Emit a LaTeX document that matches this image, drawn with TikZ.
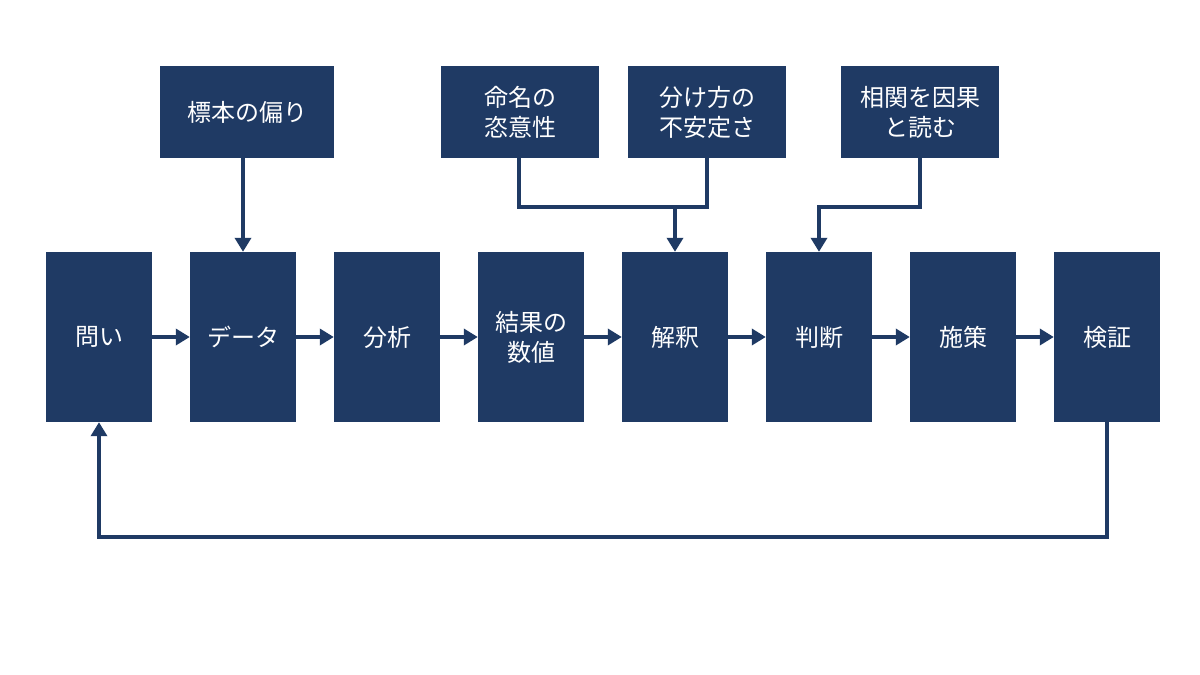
\documentclass[tikz,border=0pt]{standalone}
\usepackage{fontspec}
\setmainfont{Noto Sans CJK JP}
\usetikzlibrary{arrows.meta}
\definecolor{navy}{HTML}{1F3A64}
\begin{document}
\begin{tikzpicture}[x=1pt,y=-1pt,
  box/.style={fill=navy,draw=none,text=white,font=\fontsize{24}{30}\selectfont,align=center,inner sep=0pt},
  main/.style={box,minimum width=106pt,minimum height=170pt},
  top/.style={box,minimum width=158pt,minimum height=92pt},
  arr/.style={draw=navy,line width=4pt,-{Triangle[length=14pt,width=16pt]}},
  ln/.style={draw=navy,line width=4pt}]
\useasboundingbox (0,0) rectangle (1200,675);
\node[main] (q) at (99,337) {問い};
\node[main] (d) at (243,337) {データ};
\node[main] (a) at (387,337) {分析};
\node[main] (r) at (531,337) {結果の\\数値};
\node[main] (i) at (675,337) {解釈};
\node[main] (j) at (819,337) {判断};
\node[main] (p) at (963,337) {施策};
\node[main] (v) at (1107,337) {検証};
\node[top,minimum width=174pt] (t1) at (247,112) {標本の偏り};
\node[top] (t2) at (520,112) {命名の\\恣意性};
\node[top] (t3) at (707,112) {分け方の\\不安定さ};
\node[top] (t4) at (920,112) {相関を因果\\と読む};
\foreach \s/\t in {q/d,d/a,a/r,r/i,i/j,j/p,p/v} \draw[arr] (\s.east) -- (\t.west);
\draw[arr] (t1.south -| d) -- (d.north);
\coordinate (m1) at (519,207); \coordinate (m2) at (707,207); \coordinate (m3) at (675,207);
\draw[ln] (t2.south -| m1) -- (m1) -- (m2) -- (t3.south);
\draw[arr] (m3) -- (i.north);
\coordinate (c1) at (920,207); \coordinate (c2) at (819,207);
\draw[arr] (t4.south) -- (c1) -- (c2) -- (j.north);
\coordinate (f1) at (1107,537); \coordinate (f2) at (99,537);
\draw[arr] (v.south) -- (f1) -- (f2) -- (q.south);
\end{tikzpicture}
\end{document}
